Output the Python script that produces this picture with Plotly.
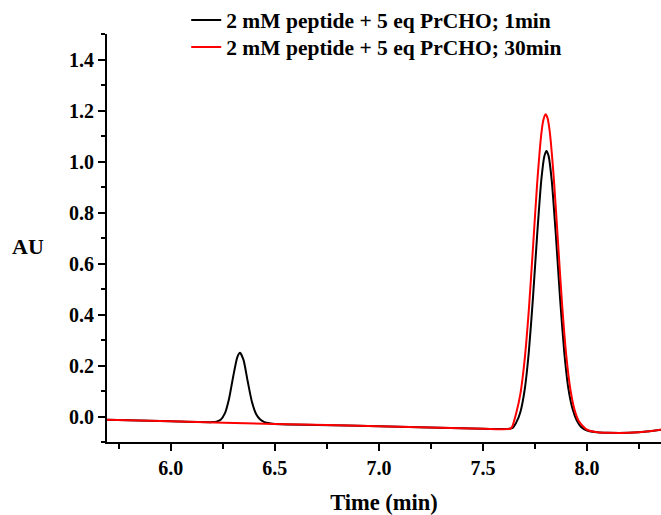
import plotly.graph_objects as go

# ---- data ----
series_names = ["2 mM peptide + 5 eq PrCHO; 1min", "2 mM peptide + 5 eq PrCHO; 30min"]

time_1min = [5.694, 6.0, 6.2, 6.22, 6.24, 6.26, 6.28, 6.30, 6.32, 6.333, 6.35, 6.37, 6.39,
             6.41, 6.43, 6.45, 6.48, 6.5, 7.0, 7.5, 7.64, 7.66, 7.68, 7.70, 7.72, 7.74,
             7.76, 7.78, 7.795, 7.805, 7.815, 7.83, 7.85, 7.87, 7.89, 7.91, 7.93, 7.95,
             7.97, 8.0, 8.05, 8.1, 8.2, 8.3, 8.355]
au_1min = [-0.013, -0.019, -0.022, -0.020, -0.013, 0.012, 0.069, 0.156, 0.233, 0.250, 0.221,
           0.137, 0.058, 0.010, -0.012, -0.022, -0.027, -0.029, -0.038, -0.048, -0.046,
           -0.023, 0.019, 0.104, 0.252, 0.465, 0.711, 0.927, 1.022, 1.041, 1.022, 0.927,
           0.711, 0.465, 0.255, 0.110, 0.030, -0.015, -0.040, -0.055, -0.062, -0.064,
           -0.064, -0.058, -0.052]

time_30min = [5.694, 6.0, 6.5, 7.0, 7.5, 7.63, 7.64, 7.66, 7.68, 7.70, 7.72, 7.74, 7.76,
              7.78, 7.79, 7.801, 7.81, 7.82, 7.84, 7.86, 7.88, 7.90, 7.92, 7.94, 7.96,
              7.98, 8.0, 8.05, 8.1, 8.2, 8.3, 8.355]
au_30min = [-0.013, -0.019, -0.029, -0.038, -0.048, -0.048, -0.040, 0.015, 0.091, 0.222,
            0.416, 0.661, 0.912, 1.107, 1.163, 1.185, 1.170, 1.121, 0.936, 0.687, 0.439,
            0.239, 0.105, 0.025, -0.018, -0.038, -0.052, -0.062, -0.064, -0.064, -0.058,
            -0.052]

x_ticks = [6.0, 6.5, 7.0, 7.5, 8.0]
y_ticks = [0.0, 0.2, 0.4, 0.6, 0.8, 1.0, 1.2, 1.4]

FONT = "Liberation Serif"

fig = go.Figure()
fig.add_trace(go.Scatter(x=time_1min, y=au_1min, mode="lines", name=series_names[0],
                         legend="legend",
                         line=dict(color="black", width=2, shape="spline", smoothing=0.6)))
fig.add_trace(go.Scatter(x=time_30min, y=au_30min, mode="lines", name=series_names[1],
                         legend="legend2",
                         line=dict(color="#ff0000", width=2, shape="spline", smoothing=0.6)))

axis_common = dict(
    showline=True, linecolor="black", linewidth=2, mirror=False,
    ticks="outside", ticklen=7, tickwidth=2, tickcolor="black",
    showgrid=False, zeroline=False, automargin=False,
    tickfont=dict(family=FONT, size=20, color="black", weight="bold"),
    tickformat=".1f",
)

fig.update_xaxes(range=[5.694, 8.355], tickvals=x_ticks,
                 minor=dict(dtick=0.25, tick0=6.0, ticks="outside", ticklen=5,
                            tickwidth=2, tickcolor="black", showgrid=False),
                 title=dict(text="Time (min)", font=dict(family=FONT, size=22.5, color="black",
                                                         weight="bold"), standoff=27),
                 **axis_common)
fig.update_yaxes(range=[-0.1, 1.5], tickvals=y_ticks,
                 minor=dict(dtick=0.1, tick0=0.0, ticks="outside", ticklen=4,
                            tickwidth=2, tickcolor="black", showgrid=False),
                 **axis_common)

fig.add_annotation(text="AU", xref="paper", yref="paper", x=-0.143, y=0.48,
                   xanchor="center", yanchor="middle", showarrow=False,
                   font=dict(family=FONT, size=22, color="black", weight="bold"))

legend_style = dict(xanchor="left", yanchor="middle", bgcolor="rgba(0,0,0,0)",
                    borderwidth=0,
                    font=dict(family=FONT, size=21.5, color="black", weight="bold"))

fig.update_layout(
    width=661, height=515,
    margin=dict(l=107, r=0, t=34, b=73, autoexpand=False),
    paper_bgcolor="white", plot_bgcolor="white",
    showlegend=True,
    legend=dict(x=0.143, y=1.034, **legend_style),
    legend2=dict(x=0.143, y=0.968, **legend_style),
)

# remove the browser's default 8px body margin so the figure fills the window
fig.write_html("out.html", config={"displayModeBar": False},
               post_script="document.body.style.margin='0';")
